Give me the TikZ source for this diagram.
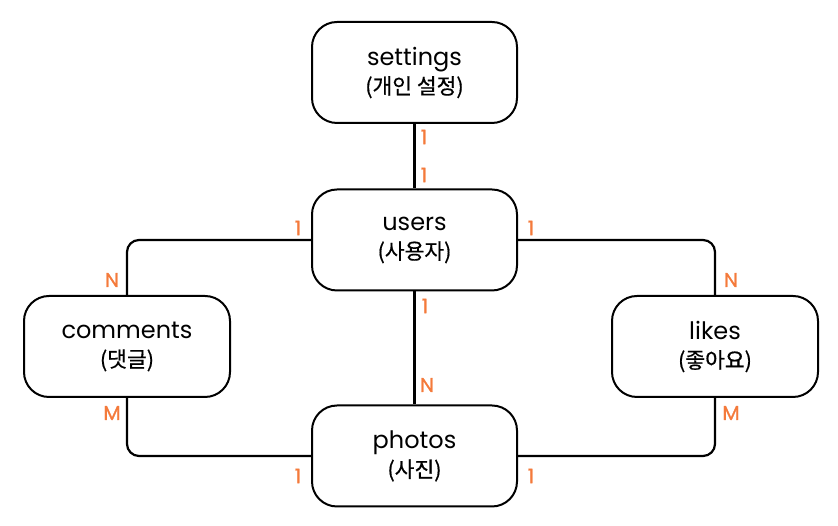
\documentclass[tikz,border=0pt]{standalone}
\usepackage{fontspec}
\setmainfont{Poppins}
\newfontfamily\kr[FakeBold=0.6]{Noto Sans CJK KR}
\newfontfamily\labfont[FakeBold=1.2]{Poppins}
\definecolor{card}{HTML}{F47A3B}
\begin{document}
\begin{tikzpicture}[x=1pt,y=1pt,
  ent/.style={draw=black, line width=2pt, rounded corners=25pt, fill=white,
    minimum width=205pt, minimum height=101pt, align=center, inner sep=0pt,
    font=\fontsize{24}{29}\selectfont},
  rel/.style={draw=black, line width=2.2pt, rounded corners=12pt},
  lab/.style={text=card, font=\labfont\fontsize{20}{20}\selectfont, inner sep=0pt}]
\useasboundingbox (0,0) rectangle (838,526);
\node[ent] (settings) at (414.5,453.5) {settings\\{\kr\fontsize{21.5}{29}\selectfont(개인 설정)}};
\node[ent] (users) at (414.5,286) {users\\{\kr\fontsize{21.5}{29}\selectfont(사용자)}};
\node[ent] (photos) at (414.5,70) {photos\\{\kr\fontsize{21.5}{29}\selectfont(사진)}};
\node[ent, minimum width=206pt] (comments) at (127,179.5) {comments\\{\kr\fontsize{21.5}{29}\selectfont(댓글)}};
\node[ent, minimum width=206pt] (likes) at (715,179.5) {likes\\{\kr\fontsize{21.5}{29}\selectfont(좋아요)}};
\draw[rel] (settings.south) -- (users.north);
\draw[rel] (users.south) -- (photos.north);
\draw[rel] (users.west) -| (comments.north);
\draw[rel] (users.east) -| (likes.north);
\draw[rel] (photos.west) -| (comments.south);
\draw[rel] (photos.east) -| (likes.south);
\node[lab] (l1) at (424,389) {1};
\node[lab] (l2) at (424,351) {1};
\node[lab] (l3) at (298,298) {1};
\node[lab] (l4) at (112,246) {N};
\node[lab] (l5) at (531,298) {1};
\node[lab] (l6) at (731,246) {N};
\node[lab] (l7) at (425,220) {1};
\node[lab] (l8) at (427,141) {N};
\node[lab] (l9) at (112,113) {M};
\node[lab] (l10) at (298,50) {1};
\node[lab] (l11) at (731,113) {M};
\node[lab] (l12) at (531,50) {1};
\end{tikzpicture}
\end{document}
